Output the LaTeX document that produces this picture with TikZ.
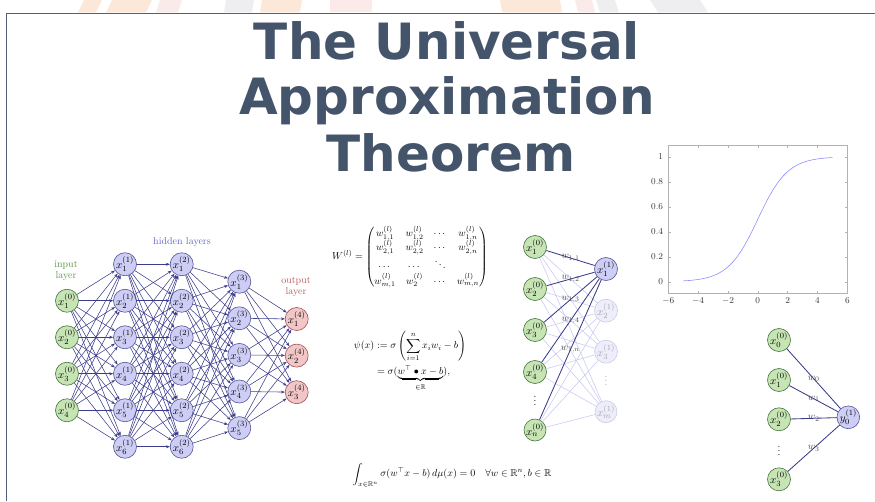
\documentclass[tikz,border=0pt]{standalone}
\usepackage{amsmath,amssymb}
\usepackage{fontspec}
\newfontfamily\titlefont{DejaVu Sans}
\usetikzlibrary{arrows.meta}
\definecolor{titlecol}{RGB}{68,84,106}
\definecolor{framecol}{RGB}{80,96,120}
\definecolor{ngfill}{RGB}{198,228,180}
\definecolor{ngdraw}{RGB}{70,118,60}
\definecolor{nbfill}{RGB}{205,205,245}
\definecolor{nbdraw}{RGB}{85,85,150}
\definecolor{nrfill}{RGB}{242,198,198}
\definecolor{nrdraw}{RGB}{160,80,80}
\definecolor{edgecol}{RGB}{60,60,140}
\definecolor{lblgreen}{RGB}{90,150,70}
\definecolor{lblblue}{RGB}{100,100,200}
\definecolor{lblred}{RGB}{185,90,90}
\definecolor{wmorange}{RGB}{252,232,216}
\definecolor{wmpink}{RGB}{250,234,234}
\definecolor{wmgray}{RGB}{238,238,240}
\definecolor{fadeline}{RGB}{200,200,240}
\tikzset{
  nn/.style={circle, draw, line width=0.6pt, minimum size=22pt, inner sep=0pt, font=\fontsize{11}{12}\selectfont},
  ingreen/.style={nn, fill=ngfill, draw=ngdraw},
  hidblue/.style={nn, fill=nbfill, draw=nbdraw},
  outred/.style={nn, fill=nrfill, draw=nrdraw},
  fadeblue/.style={nn, fill=nbfill!35, draw=nbdraw!30, text=black!35},
  conn/.style={draw=edgecol, line width=0.55pt, -{Stealth[length=4pt,width=3pt]}},
  wline/.style={draw=edgecol, line width=0.85pt},
  fline/.style={draw=fadeline, line width=0.55pt},
  wlbl/.style={midway, inner sep=0pt, font=\fontsize{10}{11}\selectfont, text=black!70},
  lbl/.style={font=\fontsize{10}{11}\selectfont, align=center},
  ticklbl/.style={font=\fontsize{9}{10}\selectfont, text=black!80},
  titletext/.style={font=\titlefont\bfseries\fontsize{50}{56}\selectfont, text=titlecol, anchor=base, inner sep=0pt},
}
\begin{document}
\begin{tikzpicture}[x=1pt,y=-1pt]
\useasboundingbox (0,0) rectangle (875,501);
% faint watermark outside the frame
\begin{scope}
\clip (0,0) rectangle (875,12.4);
\fill[wmorange] (84,0) -- (102,0) -- (96,12.4) -- (78,12.4) -- cycle;
\fill[wmorange] (112,0) -- (152,0) -- (146,12.4) -- (106,12.4) -- cycle;
\fill[wmpink] (160,0) -- (182,0) -- (178,12.4) -- (156,12.4) -- cycle;
\fill[wmgray] (226,0) -- (254,0) -- (252,12.4) -- (224,12.4) -- cycle;
\fill[wmorange] (262,0) -- (302,0) -- (300,12.4) -- (260,12.4) -- cycle;
\fill[wmpink] (330,0) -- (372,0) -- (372,12.4) -- (330,12.4) -- cycle;
\fill[wmorange] (500,0) -- (560,0) -- (562,12.4) -- (502,12.4) -- cycle;
\fill[wmpink] (575,0) -- (592,0) -- (595,12.4) -- (578,12.4) -- cycle;
\fill[wmgray] (596,0) -- (615,0) -- (619,12.4) -- (600,12.4) -- cycle;
\fill[wmgray] (650,0) -- (700,0) -- (708,12.4) -- (658,12.4) -- cycle;
\end{scope}
% frame
\draw[framecol, line width=1pt] (6,501) -- (6,13) -- (875,13);
% title
\node[titletext] (title1) at (447,59) {The Universal};
\node[titletext] (title2) at (447,114) {Approximation};
\node[titletext] (title3) at (451,171) {Theorem};

% ===== left network =====
\foreach \i in {1,...,4}{
  \pgfmathsetmacro\yy{300.75+36.5*(\i-1)}
  \node[ingreen] (A\i) at (67,\yy) {$x_{\i}^{(0)}$};
}
\foreach \i in {1,...,6}{
  \pgfmathsetmacro\yy{264.25+36.5*(\i-1)}
  \node[hidblue] (B\i) at (125,\yy) {$x_{\i}^{(1)}$};
  \node[hidblue] (C\i) at (181.7,\yy) {$x_{\i}^{(2)}$};
}
\foreach \i in {1,...,5}{
  \pgfmathsetmacro\yy{281.7+36.6*(\i-1)}
  \node[hidblue] (D\i) at (239.3,\yy) {$x_{\i}^{(3)}$};
}
\foreach \i in {1,...,3}{
  \pgfmathsetmacro\yy{319+36.6*(\i-1)}
  \node[outred] (E\i) at (296.7,\yy) {$x_{\i}^{(4)}$};
}
\foreach \i in {1,...,4}\foreach \j in {1,...,6} \draw[conn] (A\i) -- (B\j);
\foreach \i in {1,...,6}\foreach \j in {1,...,6} \draw[conn] (B\i) -- (C\j);
\foreach \i in {1,...,6}\foreach \j in {1,...,5} \draw[conn] (C\i) -- (D\j);
\foreach \i in {1,...,5}\foreach \j in {1,...,3} \draw[conn] (D\i) -- (E\j);
\node[lbl, text=lblgreen] (inlbl) at (66,270.5) {input\\layer};
\node[lbl, text=lblblue] (hidlbl) at (182,242.5) {hidden layers};
\node[lbl, text=lblred] (outlbl) at (296,287) {output\\layer};

% ===== formulas =====
\node (wmat) at (410,257) {$W^{(l)}=\begin{pmatrix}
w^{(l)}_{1,1} & w^{(l)}_{1,2} & \cdots & w^{(l)}_{1,n}\\
w^{(l)}_{2,1} & w^{(l)}_{2,2} & \cdots & w^{(l)}_{2,n}\\
\cdots & \cdots & \ddots & \\
w^{(l)}_{m,1} & w^{(l)}_{2} & \cdots & w^{(l)}_{m,n}
\end{pmatrix}$};
\node (psi) at (410,361) {$\displaystyle\begin{aligned}
\psi(x) &:= \sigma\left(\sum_{i=1}^{n} x_i w_i - b\right)\\
&= \sigma(\underbrace{w^{\top}\bullet x-b}_{\in\mathbb{R}}),
\end{aligned}$};
\node (integ) at (452,475) {$\displaystyle\int_{x\in\mathbb{R}^n}\sigma(w^{\top}x-b)\,d\mu(x)=0\quad\forall w\in\mathbb{R}^n, b\in\mathbb{R}$};

% ===== middle network =====
\node[ingreen] (M1) at (535,247) {$x_{1}^{(0)}$};
\node[ingreen] (M2) at (535,289) {$x_{2}^{(0)}$};
\node[ingreen] (M3) at (535,330) {$x_{3}^{(0)}$};
\node[ingreen] (M4) at (535,372) {$x_{4}^{(0)}$};
\node (Mdots) at (535,398) {$\vdots$};
\node[ingreen] (Mn) at (535,430) {$x_{n}^{(0)}$};
\node[hidblue] (N1) at (606,269) {$x_{1}^{(1)}$};
\node[fadeblue] (N2) at (606,310.7) {$x_{2}^{(1)}$};
\node[fadeblue] (N3) at (606,351.7) {$x_{3}^{(1)}$};
\node[text=black!35] (Ndots) at (606,378) {$\vdots$};
\node[fadeblue] (Nm) at (606,411.7) {$x_{m}^{(1)}$};
\foreach \a in {M1,M2,M3,M4,Mn}\foreach \b in {N2,N3,Nm} \draw[fline] (\a) -- (\b);
\draw[wline] (M1) -- (N1) node[wlbl] {$w_{1,1}$};
\draw[wline] (M2) -- (N1) node[wlbl] {$w_{1,2}$};
\draw[wline] (M3) -- (N1) node[wlbl] {$w_{1,3}$};
\draw[wline] (M4) -- (N1) node[wlbl] {$w_{1,4}$};
\draw[wline] (Mn) -- (N1) node[wlbl] {$w_{1,n}$};

% ===== sigmoid plot =====
\draw[gray!60, line width=0.5pt] (668.3,145.2) rectangle (847.3,293.3);
\foreach \t in {-6,-4,...,6}{
  \pgfmathsetmacro\px{757.8+14.917*\t}
  \draw[gray!60] (\px,293.3) -- (\px,290.5);
  \draw[gray!60] (\px,145.2) -- (\px,148);
  \node[ticklbl, anchor=north] at (\px,294.5) {$\t$};
}
\foreach \t/\s in {0/0,0.2/0.2,0.4/0.4,0.6/0.6,0.8/0.8,1/1}{
  \pgfmathsetmacro\py{281.7-125*\t}
  \draw[gray!60] (668.3,\py) -- (671.1,\py);
  \draw[gray!60] (847.3,\py) -- (844.5,\py);
  \node[ticklbl, anchor=east] at (666.5,\py) {$\s$};
}
\draw[blue!45, line width=0.6pt] plot[domain=-5:5, samples=80, smooth] ({757.8+14.917*\x},{281.7-125/(1+exp(-\x))});

% ===== right network =====
\node[ingreen] (R0) at (779,340) {$x_{0}^{(0)}$};
\node[ingreen] (R1) at (779,380) {$x_{1}^{(0)}$};
\node[ingreen] (R2) at (779,419.3) {$x_{2}^{(0)}$};
\node (Rdots) at (779,448) {$\vdots$};
\node[ingreen] (R3) at (779,479.3) {$x_{3}^{(0)}$};
\node[hidblue] (Y0) at (848.3,417.3) {$y_{0}^{(1)}$};
\draw[wline] (R0) -- (Y0) node[wlbl] {$w_0$};
\draw[wline] (R1) -- (Y0) node[wlbl] {$w_1$};
\draw[wline] (R2) -- (Y0) node[wlbl] {$w_2$};
\draw[wline] (R3) -- (Y0) node[wlbl] {$w_3$};
\end{tikzpicture}
\end{document}
